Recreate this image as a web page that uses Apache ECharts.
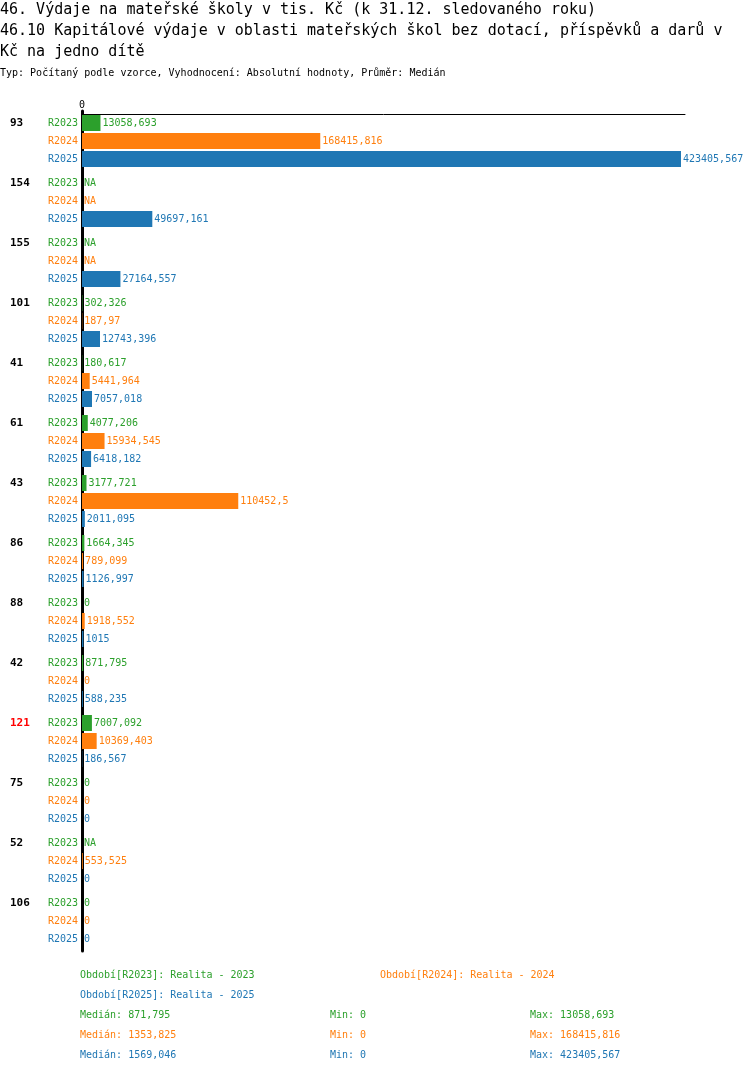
<!DOCTYPE html>
<html><head><meta charset="utf-8">
<script src="https://cdn.jsdelivr.net/npm/echarts@6/dist/echarts.min.js"></script>
<style>html,body{margin:0;padding:0;background:#fff}#c{width:750px;height:1074px}</style>
</head><body><div id="c"></div>
<script>
const categories = ['93','154','155','101','41','61','43','86','88','42','121','75','52','106'];
const periods = ['R2023','R2024','R2025'];
const periodNames = ['Realita - 2023','Realita - 2024','Realita - 2025'];
const r2023 = [13058.693, null, null, 302.326, 180.617, 4077.206, 3177.721, 1664.345, 0, 871.795, 7007.092, 0, null, 0];
const r2024 = [168415.816, null, null, 187.97, 5441.964, 15934.545, 110452.5, 789.099, 1918.552, 0, 10369.403, 0, 553.525, 0];
const r2025 = [423405.567, 49697.161, 27164.557, 12743.396, 7057.018, 6418.182, 2011.095, 1126.997, 1015, 588.235, 186.567, 0, 0, 0];
const highlighted = ['121'];
const colors = ['#2ca02c','#ff7f0e','#1f77b4'];
const seriesVals = [r2023, r2024, r2025];
const FONT = '"DejaVu Sans Mono", monospace';

function fmt(v){
  if (v == null) return 'NA';
  const t = Math.floor(v*1000 + 1e-6)/1000;
  let s = t.toFixed(3).replace(/0+$/,'').replace(/\.$/,'');
  return s.replace('.', ',');
}
function stats(arr){
  const a = arr.filter(v => v != null).sort((x,y)=>x-y);
  const n = a.length;
  const med = n % 2 ? a[(n-1)/2] : (a[n/2-1] + a[n/2]) / 2;
  return {med, min: a[0], max: a[n-1]};
}

const chart = echarts.init(document.getElementById('c'), null, {renderer:'canvas'});

const series = seriesVals.map((vals, si) => ({
  type: 'bar',
  name: periods[si],
  data: vals.map(v => v == null ? 0 : v),
  barWidth: 16,
  barGap: '12.5%',
  itemStyle: {color: colors[si]},
  animation: false,
  label: {
    show: true,
    position: 'right',
    distance: 2,
    color: colors[si],
    fontFamily: FONT,
    fontSize: 10,
    formatter: p => fmt(vals[p.dataIndex])
  }
}));

const graphics = [];
const titleLines = [
  '46. Výdaje na mateřské školy v tis. Kč (k 31.12. sledovaného roku)',
  '46.10 Kapitálové výdaje v oblasti mateřských škol bez dotací, příspěvků a darů v',
  'Kč na jedno dítě'
];
titleLines.forEach((t, i) => graphics.push({
  type: 'text', left: 0, top: 3 + i*21,
  style: {text: t, font: '15px ' + FONT, fill: '#000'}
}));
graphics.push({
  type: 'text', left: 0, top: 68,
  style: {text: 'Typ: Počítaný podle vzorce, Vyhodnocení: Absolutní hodnoty, Průměr: Medián', font: '10px ' + FONT, fill: '#000'}
});
// legend
const legPos = [[80, 970], [380, 970], [80, 990]];
periods.forEach((p, i) => graphics.push({
  type: 'text', left: legPos[i][0], top: legPos[i][1],
  style: {text: 'Období[' + p + ']: ' + periodNames[i], font: '10px ' + FONT, fill: colors[i]}
}));
seriesVals.forEach((vals, i) => {
  const s = stats(vals);
  const y = 1010 + i*20;
  graphics.push({type:'text', left: 80, top: y, style:{text:'Medián: ' + fmt(s.med), font:'10px ' + FONT, fill: colors[i]}});
  graphics.push({type:'text', left: 330, top: y, style:{text:'Min: ' + fmt(s.min), font:'10px ' + FONT, fill: colors[i]}});
  graphics.push({type:'text', left: 530, top: y, style:{text:'Max: ' + fmt(s.max), font:'10px ' + FONT, fill: colors[i]}});
});

const maxVal = Math.max(...r2025.filter(v=>v!=null), ...r2024.filter(v=>v!=null), ...r2023.filter(v=>v!=null));

chart.setOption({
  animation: false,
  grid: {left: 82, right: 65, top: 111, height: 840},
  xAxis: {
    type: 'value',
    position: 'top',
    min: 0,
    max: maxVal * 1.0067,
    offset: -3,
    splitLine: {show: false},
    axisTick: {show: false},
    axisLine: {show: true, lineStyle: {color: '#000', width: 1}},
    axisLabel: {
      show: true, margin: 4, color: '#000', fontFamily: FONT, fontSize: 10,
      formatter: v => v === 0 ? '0' : ''
    }
  },
  yAxis: {
    type: 'category',
    inverse: true,
    data: categories,
    axisTick: {show: false},
    axisLine: {show: true, lineStyle: {color: '#000', width: 3}},
    axisLabel: {
      margin: 4,
      lineHeight: 18,
      formatter: name => {
        const n = highlighted.includes(name) ? 'r' : 'n';
        return '{' + n + '|' + name + '}{a|' + periods[0] + '}\n{b|' + periods[1] + '}\n{c|' + periods[2] + '}';
      },
      rich: {
        n: {width: 38, align: 'left', fontWeight: 'bold', color: '#000', fontFamily: FONT, fontSize: 11, lineHeight: 18},
        r: {width: 38, align: 'left', fontWeight: 'bold', color: '#ff0000', fontFamily: FONT, fontSize: 11, lineHeight: 18},
        a: {color: colors[0], fontFamily: FONT, fontSize: 10, lineHeight: 18},
        b: {color: colors[1], fontFamily: FONT, fontSize: 10, lineHeight: 18},
        c: {color: colors[2], fontFamily: FONT, fontSize: 10, lineHeight: 18}
      }
    }
  },
  series: series,
  graphic: graphics
});
</script></body></html>
